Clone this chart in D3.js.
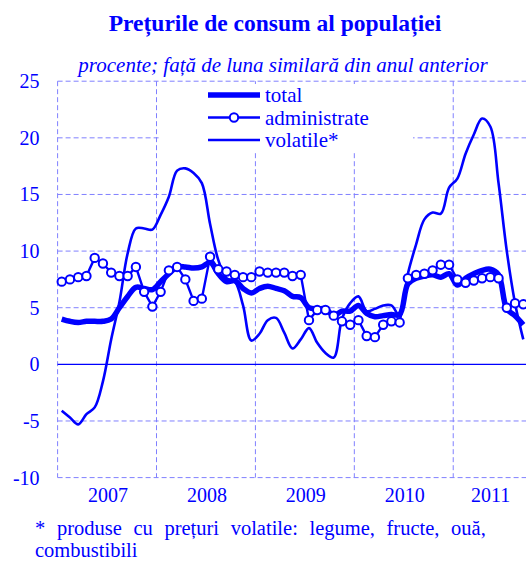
<!DOCTYPE html>
<html>
<head>
<meta charset="utf-8">
<script src="https://cdn.jsdelivr.net/npm/d3@7"></script>
<style>
  body { margin: 0; background: #fff; }
  text { font-family: "Liberation Serif", "Times New Roman", serif; fill: #0000ff; }
</style>
</head>
<body>
<div id="chart"></div>
<script>
// years on the axis and how many months of each are shown
var years = [2007, 2008, 2009, 2010, 2011];
var monthsPerYear = [12, 12, 12, 12, 9];

// annual change, % (Jan 2007 .. Sep 2011)
var total = [
  4.0, 3.8, 3.7, 3.8, 3.8, 3.8, 4.0, 5.0, 6.0, 6.8, 6.7, 6.6,
  7.3, 8.0, 8.6, 8.6, 8.5, 8.6, 9.0, 8.0, 7.3, 7.4, 6.7, 6.3,
  6.7, 6.9, 6.7, 6.5, 6.0, 5.9, 5.0, 4.9, 4.9, 4.3, 4.7, 4.7,
  5.2, 4.5, 4.2, 4.3, 4.4, 4.4, 7.1, 7.6, 7.8, 7.9, 7.7, 8.0,
  7.0, 7.6, 8.0, 8.3, 8.4, 7.9, 4.9, 4.3, 3.5
];
var administrate = [
  7.3, 7.5, 7.7, 7.8, 9.4, 8.9, 8.1, 7.8, 7.8, 8.6, 6.4, 5.1,
  6.4, 8.3, 8.6, 7.5, 5.6, 5.8, 9.5, 8.4, 8.2, 7.9, 7.7, 7.7,
  8.2, 8.1, 8.1, 8.1, 7.8, 7.9, 3.9, 4.8, 4.8, 4.3, 3.8, 3.5,
  3.9, 2.5, 2.4, 3.5, 3.8, 3.7, 7.6, 7.9, 8.0, 8.3, 8.8, 8.8,
  7.5, 7.2, 7.4, 7.6, 7.7, 7.6, 5.0, 5.4, 5.3
];
var volatile = [
  -4.1, -4.7, -5.3, -4.4, -3.8, -1.5, 2.2, 5.5, 9.8, 12.0, 12.0, 11.9,
  13.2, 14.8, 17.1, 17.3, 16.9, 16.0, 12.4, 9.2, 7.6, 7.3, 5.2, 2.1,
  2.7, 3.9, 4.1, 2.8, 1.4, 2.2, 3.2, 1.9, 1.0, 0.6, 4.0, 5.4,
  6.0, 4.7, 4.9, 5.2, 5.2, 4.3, 8.0, 10.6, 12.8, 13.4, 13.3, 15.6,
  16.4, 18.6, 20.3, 21.7, 21.0, 16.0, 10.0, 5.4, 2.2
];
var yTicks = [-10, -5, 0, 5, 10, 15, 20, 25];
var legendNames = ["total", "administrate", "volatile*"];

var width = 526, height = 562;
var blue = "#0000ff", gridColor = "#8080ff";

// month index list
var months = [];
years.forEach(function(y, k) {
    for (var m = 0; m < monthsPerYear[k]; m++) months.push(months.length);
});

var svg = d3.select("#chart").append("svg")
    .attr("width", width)
    .attr("height", height);

var x = d3.scaleBand().domain(months).range([57.6, 527.4]).padding(0);
var y = d3.scaleLinear().domain([-10, 25]).range([477.6, 81.2]);
var cx = function(i) { return x(i) + x.bandwidth() / 2; };

// title
svg.append("text")
    .attr("x", 275).attr("y", 31)
    .attr("text-anchor", "middle")
    .style("font-size", "23.5px").style("font-weight", "bold")
    .text("Prețurile de consum al populației");

svg.append("text")
    .attr("x", 283).attr("y", 72)
    .attr("text-anchor", "middle")
    .style("font-size", "21px").style("font-style", "italic")
    .text("procente; față de luna similară din anul anterior");

// grid
var grid = svg.append("g").attr("class", "grid");
grid.selectAll(".hgrid")
    .data(yTicks.filter(function(d) { return d != 0; }))
    .enter().append("line")
    .attr("x1", x.range()[0]).attr("x2", x.range()[1])
    .attr("y1", function(d) { return y(d); })
    .attr("y2", function(d) { return y(d); })
    .attr("stroke", gridColor).attr("stroke-width", 1)
    .attr("stroke-dasharray", "5,3");

var yearStarts = [0];
var acc = 0;
monthsPerYear.forEach(function(n) { acc += n; yearStarts.push(acc); });

grid.selectAll(".vgrid")
    .data(yearStarts.slice(0, years.length))
    .enter().append("line")
    .attr("x1", function(d) { return x(d); })
    .attr("x2", function(d) { return x(d); })
    .attr("y1", y(25)).attr("y2", y(-10))
    .attr("stroke", gridColor).attr("stroke-width", 1)
    .attr("stroke-dasharray", "5,3");

// zero line
svg.append("line")
    .attr("x1", x.range()[0]).attr("x2", x.range()[1])
    .attr("y1", y(0)).attr("y2", y(0))
    .attr("stroke", blue).attr("stroke-width", 1.3);

// y axis labels (plain hyphen for negatives, like the original)
var yAxis = svg.append("g")
    .attr("transform", "translate(" + x.range()[0] + ",0)")
    .call(d3.axisLeft(y).tickValues(yTicks).tickSize(0).tickPadding(18)
        .tickFormat(function(d) { return String(d); }));
yAxis.select(".domain").remove();
yAxis.selectAll("text")
    .style("font-size", "20px")
    .style("font-family", "'Liberation Serif', serif")
    .attr("fill", blue);

// year labels, centred on the visible months of each year
svg.selectAll(".year")
    .data(years)
    .enter().append("text")
    .attr("class", "year")
    .attr("x", function(d, k) {
        var a = x(yearStarts[k]);
        var b = Math.min(x(yearStarts[k + 1] - 1) + x.bandwidth(), width);
        return (a + b) / 2 + 1;
    })
    .attr("y", 502)
    .attr("text-anchor", "middle")
    .style("font-size", "20px")
    .text(function(d) { return d; });

// series
var smooth = d3.line()
    .x(function(d, i) { return cx(i); })
    .y(function(d) { return y(d); })
    .curve(d3.curveCatmullRom.alpha(0.5));

var straight = d3.line()
    .x(function(d, i) { return cx(i); })
    .y(function(d) { return y(d); });

svg.append("path")
    .datum(volatile)
    .attr("d", smooth)
    .attr("fill", "none")
    .attr("stroke", blue)
    .attr("stroke-width", 2.6);

svg.append("path")
    .datum(total)
    .attr("d", smooth)
    .attr("fill", "none")
    .attr("stroke", blue)
    .attr("stroke-width", 5.5)
    .attr("stroke-linejoin", "round");

svg.append("path")
    .datum(administrate)
    .attr("d", straight)
    .attr("fill", "none")
    .attr("stroke", blue)
    .attr("stroke-width", 2.4);

svg.selectAll(".adm")
    .data(administrate)
    .enter().append("circle")
    .attr("class", "adm")
    .attr("cx", function(d, i) { return cx(i); })
    .attr("cy", function(d) { return y(d); })
    .attr("r", 4.2)
    .attr("fill", "#fff")
    .attr("stroke", blue)
    .attr("stroke-width", 2);

// legend
var legend = svg.append("g").attr("class", "legend");
legend.append("rect")
    .attr("x", 160).attr("y", 84)
    .attr("width", 253).attr("height", 68)
    .attr("fill", "#fff");

var rows = legend.selectAll(".row")
    .data(legendNames)
    .enter().append("g")
    .attr("class", "row")
    .attr("transform", function(d, i) {
        var yy = 95 + 22.5 * i;
        return "translate(208," + yy + ")";
    });

rows.append("line")
    .attr("x1", 0).attr("x2", 52)
    .attr("y1", 0).attr("y2", 0)
    .attr("stroke", blue)
    .attr("stroke-width", function(d, i) { return i == 0 ? 5.5 : 2.6; });

rows.filter(function(d, i) { return i == 1; })
    .append("circle")
    .attr("cx", 26).attr("cy", 0).attr("r", 4.2)
    .attr("fill", "#fff").attr("stroke", blue).attr("stroke-width", 2);

rows.append("text")
    .attr("x", 57).attr("y", 0).attr("dy", "0.35em")
    .style("font-size", "21px")
    .text(function(d) { return d; });

// footnote (first line is justified in the original)
svg.append("text")
    .attr("x", 35).attr("y", 535)
    .style("font-size", "20.5px")
    .style("word-spacing", "6.5px")
    .text("* produse cu prețuri volatile: legume, fructe, ouă,");
svg.append("text")
    .attr("x", 35).attr("y", 557)
    .style("font-size", "20.5px")
    .text("combustibili");
</script>
</body>
</html>
